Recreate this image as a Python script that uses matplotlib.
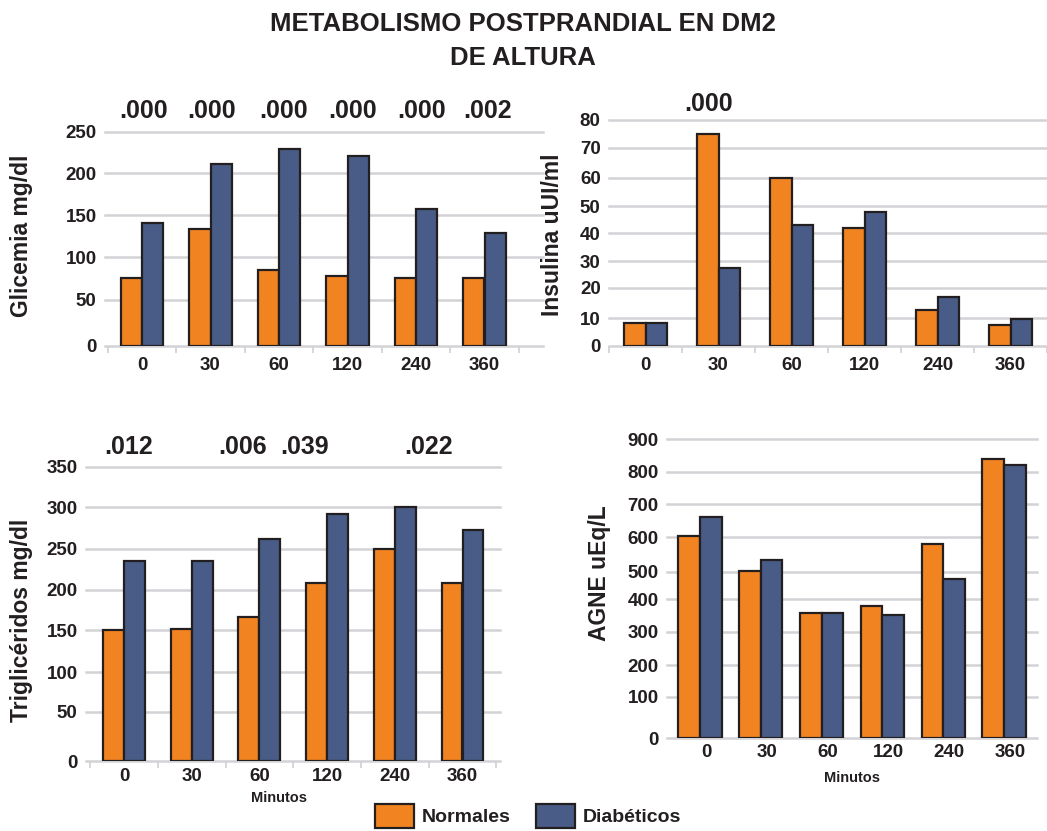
import numpy as np
import matplotlib
matplotlib.use("Agg")
import matplotlib.pyplot as plt
import matplotlib.transforms as mtransforms
from matplotlib.patches import Patch

plt.rcParams["font.family"] = ["Liberation Sans", "DejaVu Sans"]
plt.rcParams["font.weight"] = "bold"

# datos
minutos = ["0", "30", "60", "120", "240", "360"]

glic_normales = [76, 134, 85, 78, 76, 76]
glic_diabeticos = [141, 211, 229, 221, 158, 129]
glic_p = [".000", ".000", ".000", ".000", ".000", ".002"]

insu_normales = [8.4, 75, 60, 42, 12.9, 7.5]
insu_diabeticos = [8.4, 27.4, 43.2, 47.9, 16.9, 9.8]
insu_p = [".000"]

trig_normales = [150, 151, 166, 208, 250, 208]
trig_diabeticos = [235, 235, 262, 292, 300, 272]
trig_p = [".012", ".006", ".039", ".022"]

agne_normales = [605, 502, 358, 380, 580, 840]
agne_diabeticos = [662, 535, 358, 352, 473, 820]

ORANGE = "#f28321"
BLUE = "#485c87"
EDGE = "#231f20"
GRID = "#d3d3d7"
TXT = "#231f20"

W, H = 1047, 831
fig = plt.figure(figsize=(W / 100, H / 100), dpi=100)


def px_rect(l, r, t, b):
    return [l / W, (H - b) / H, (r - l) / W, (b - t) / H]


def panel(rect, yticks, ytick_px, normales, diabeticos, ylabel, ylabel_px,
          x0, step, bar_w, pvals=None, pval_x=None, pval_y=None,
          xpad=8, boundary_ticks=True, xlabel_px=None, label_shift=0):
    l, r, t, b = rect
    ax = fig.add_axes(px_rect(l, r, t, b))
    # escala por tramos, como en la figura original
    h = [ytick_px[0] - p for p in ytick_px]
    fwd = lambda v: np.interp(v, yticks, h)
    inv = lambda p: np.interp(p, h, yticks)
    ax.set_yscale("function", functions=(fwd, inv))
    ax.set_ylim(yticks[0], yticks[-1])
    ax.set_xlim((l - x0) / step, (r - x0) / step)

    x = np.arange(len(minutos))
    ax.bar(x - bar_w / 2, normales, bar_w, color=ORANGE, edgecolor=EDGE,
           linewidth=1.6, zorder=3, label="Normales")
    ax.bar(x + bar_w / 2, diabeticos, bar_w, color=BLUE, edgecolor=EDGE,
           linewidth=1.6, zorder=3, label="Diabéticos")

    for v in yticks:
        ax.axhline(v, color=GRID, lw=1.8, zorder=0, clip_on=False)

    for s in ax.spines.values():
        s.set_visible(False)
    ax.set_yticks(yticks)
    ax.set_yticklabels([str(v) for v in yticks])
    ax.set_xticks(x)
    ax.set_xticklabels(minutos)
    ax.tick_params(axis="y", length=0, pad=6, labelsize=13.5, labelcolor=TXT)
    ax.tick_params(axis="x", which="major", length=0, pad=xpad, labelsize=13.5,
                   labelcolor=TXT)
    if label_shift:
        off = mtransforms.ScaledTranslation(label_shift / 100, 0, fig.dpi_scale_trans)
        for lab in ax.get_xticklabels():
            lab.set_transform(lab.get_transform() + off)
    if boundary_ticks:
        ax.set_xticks(np.arange(-0.5, len(minutos)), minor=True)
        ax.tick_params(axis="x", which="minor", length=5, width=1.3, color=GRID)

    ax.set_ylabel(ylabel, fontsize=16.5, fontweight="bold", color=TXT)
    ax.yaxis.set_label_coords(ylabel_px[0] / W, (H - ylabel_px[1]) / H,
                              transform=fig.transFigure)

    if pvals:
        tr = mtransforms.blended_transform_factory(ax.transData, ax.transAxes)
        py = (b - pval_y) / (b - t)
        for xp, p in zip(pval_x, pvals):
            ax.text(xp, py, p, transform=tr, ha="center", va="center",
                    fontsize=18, fontweight="bold", color=TXT, clip_on=False)
    if xlabel_px:
        fig.text(xlabel_px[0] / W, 1 - xlabel_px[1] / H, "Minutos",
                 ha="center", va="center", fontsize=10.5, fontweight="bold",
                 color=TXT)
    return ax


# Glicemia
panel((105, 543, 131.7, 346), [0, 50, 100, 150, 200, 250],
      [346, 299.7, 257.3, 215.3, 173.3, 131.7],
      glic_normales, glic_diabeticos, "Glicemia mg/dl", (33, 236),
      x0=142, step=68.5, bar_w=0.31,
      pvals=glic_p, pval_x=[0.02, 1.02, 2.06, 3.08, 4.08, 5.04], pval_y=111)

# Insulina
panel((609, 1047, 120, 346), [0, 10, 20, 30, 40, 50, 60, 70, 80],
      [346, 318.3, 288, 261, 233.3, 206.3, 177.7, 147.7, 120],
      insu_normales, insu_diabeticos, "Insulina uUI/ml", (564, 235),
      x0=646, step=74.1, bar_w=0.29,
      pvals=insu_p, pval_x=[0.86], pval_y=104)

# Trigliceridos
panel((86, 500, 466.7, 761.3), [0, 50, 100, 150, 200, 250, 300, 350],
      [761.3, 712, 672.3, 630.3, 590, 548.7, 507.3, 466.7],
      trig_normales, trig_diabeticos, "Triglicéridos mg/dl", (33, 620),
      x0=124, step=67.7, bar_w=0.31,
      pvals=trig_p, pval_x=[0.07, 1.75, 2.67, 4.5], pval_y=447,
      xpad=5, xlabel_px=(279, 798))

# AGNE
panel((667, 1037, 439.3, 738.3),
      [0, 100, 200, 300, 400, 500, 600, 700, 800, 900],
      [738.3, 696.7, 665.3, 632, 599.3, 572, 537.3, 504.3, 471.7, 439.3],
      agne_normales, agne_diabeticos, "AGNE uEq/L", (611, 573),
      x0=700, step=60.8, bar_w=0.355, xpad=4, boundary_ticks=False,
      xlabel_px=(852, 778), label_shift=6)

fig.text(523 / W, 1 - 24 / H, "METABOLISMO POSTPRANDIAL EN DM2",
         ha="center", va="center", fontsize=18.5, fontweight="bold", color=TXT)
fig.text(523 / W, 1 - 58 / H, "DE ALTURA",
         ha="center", va="center", fontsize=18.5, fontweight="bold", color=TXT)

handles = [Patch(facecolor=ORANGE, edgecolor=EDGE, linewidth=1.6, label="Normales"),
           Patch(facecolor=BLUE, edgecolor=EDGE, linewidth=1.6, label="Diabéticos")]
fig.legend(handles=handles, loc="upper center", ncol=2,
           bbox_to_anchor=(528 / W, 1 - 804 / H), frameon=False,
           prop={"size": 14, "weight": "bold"}, handlelength=2.0,
           handleheight=1.5, handletextpad=0.4, columnspacing=1.3,
           borderpad=0, borderaxespad=0, labelcolor=TXT)

fig.savefig("out.png", dpi=100)
